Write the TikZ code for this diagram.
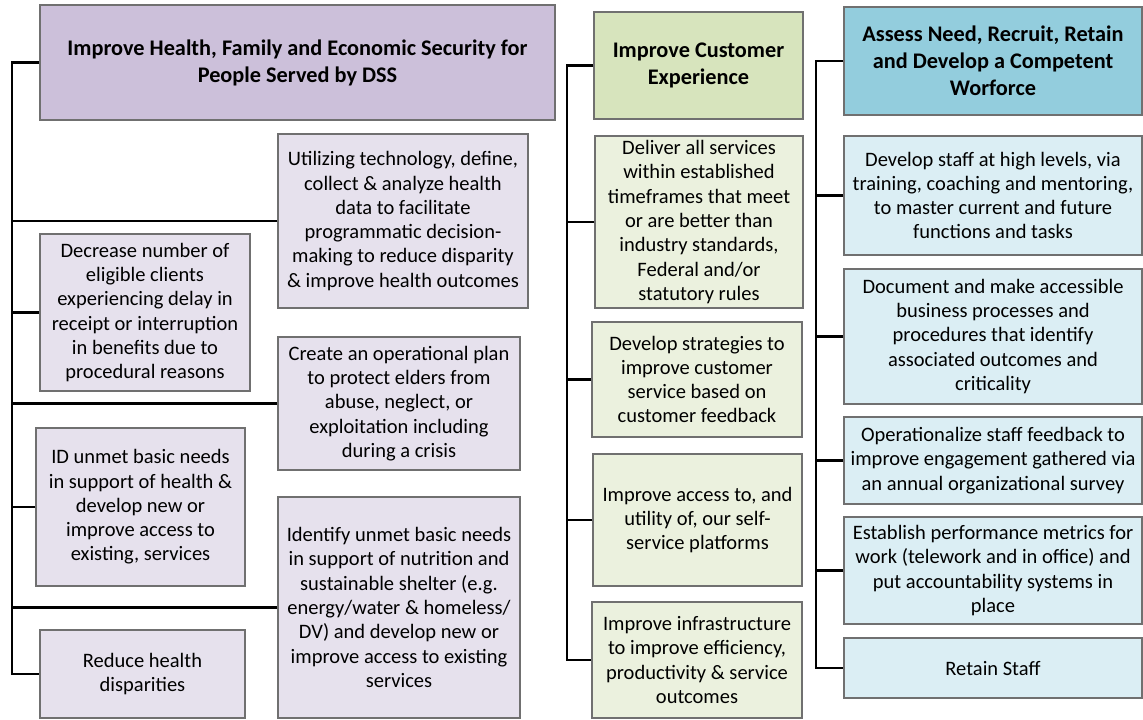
\documentclass[tikz,border=0pt]{standalone}
\usepackage{fontspec}
\setmainfont{Carlito}
\definecolor{purpleH}{RGB}{204,192,218}
\definecolor{purpleL}{RGB}{230,225,237}
\definecolor{greenH}{RGB}{215,228,189}
\definecolor{greenL}{RGB}{235,241,222}
\definecolor{blueH}{RGB}{147,205,221}
\definecolor{blueL}{RGB}{219,238,244}
\definecolor{edge}{RGB}{112,112,112}
\tikzset{
  box/.style={draw=edge, line width=1.3pt, inner sep=0pt, align=center,
    font=\fontsize{20.5}{24.3}\selectfont},
  headbox/.style={box, font=\bfseries\fontsize{22.3}{27}\selectfont},
  conn/.style={draw=black, line width=2.2pt},
  trunk/.style={draw=black, line width=2.7pt},
}
% box placed by its centre (x,y) and size (w,h), in pixel units
\newcommand\placebox[6]{%
  \node[#1, minimum width=#4, minimum height=#5] (#2) at #3 {#6};}
\begin{document}
\begin{tikzpicture}[x=1pt, y=-1pt]
\useasboundingbox (0,0) rectangle (1143,720);

% ---- Column 1: health, family and economic security
\placebox{headbox, fill=purpleH}{H1}{(297.5,62.5)}{515pt}{115pt}
  {Improve Health, Family and Economic Security for\\People Served by DSS}
\placebox{box, fill=purpleL}{A}{(403,221)}{250pt}{174pt}
  {Utilizing technology, define,\\collect \& analyze health\\data to facilitate\\programmatic decision-\\making to reduce disparity\\\& improve health outcomes}
\placebox{box, fill=purpleL}{B}{(145,312.5)}{210pt}{157pt}
  {Decrease number of\\eligible clients\\experiencing delay in\\receipt or interruption\\in benefits due to\\procedural reasons}
\placebox{box, fill=purpleL}{C}{(399,403.5)}{242pt}{133pt}
  {Create an operational plan\\to protect elders from\\abuse, neglect, or\\exploitation including\\during a crisis}
\placebox{box, fill=purpleL}{D}{(140.5,507)}{209pt}{158pt}
  {ID unmet basic needs\\in support of health \&\\develop new or\\improve access to\\existing, services}
\placebox{box, fill=purpleL}{F}{(399,607.5)}{242pt}{221pt}
  {Identify unmet basic needs\\in support of nutrition and\\sustainable shelter (e.g.\\energy/water \& homeless/\\DV) and develop new or\\improve access to existing\\services}
\placebox{box, fill=purpleL}{E}{(142.5,674)}{205pt}{88pt}
  {Reduce health\\disparities}

\coordinate (k1) at (12,0);
\draw[trunk] (H1.west) -- (H1.west -| k1) -- (E.west -| k1) -- (E.west);
\foreach \n in {A,B,C,D,F}
  \draw[conn] (\n.west) -- (\n.west -| k1);

% ---- Column 2: customer experience
\placebox{headbox, fill=greenH}{H2}{(698.5,65.5)}{209pt}{107pt}
  {Improve Customer\\Experience}
\placebox{box, fill=greenL}{G1}{(699,222)}{208pt}{172pt}
  {Deliver all services\\within established\\timeframes that meet\\or are better than\\industry standards,\\Federal and/or\\statutory rules}
\placebox{box, fill=greenL}{G2}{(697,379.5)}{210pt}{115pt}
  {Develop strategies to\\improve customer\\service based on\\customer feedback}
\placebox{box, fill=greenL}{G3}{(697.5,520)}{209pt}{132pt}
  {Improve access to, and\\utility of, our self-\\service platforms}
\placebox{box, fill=greenL}{G4}{(697,660)}{210pt}{116pt}
  {Improve infrastructure\\to improve efficiency,\\productivity \& service\\outcomes}

\coordinate (k2) at (567,0);
\draw[trunk] (H2.west) -- (H2.west -| k2) -- (G4.west -| k2) -- (G4.west);
\foreach \n in {G1,G2,G3}
  \draw[conn] (\n.west) -- (\n.west -| k2);

% ---- Column 3: workforce
\placebox{headbox, fill=blueH}{H3}{(993,61)}{298pt}{108pt}
  {Assess Need, Recruit, Retain\\and Develop a Competent\\Worforce}
\placebox{box, fill=blueL}{R1}{(993,195.5)}{298pt}{119pt}
  {Develop staff at high levels, via\\training, coaching and mentoring,\\to master current and future\\functions and tasks}
\placebox{box, fill=blueL}{R2}{(993,336.5)}{298pt}{135pt}
  {Document and make accessible\\business processes and\\procedures that identify\\associated outcomes and\\criticality}
\placebox{box, fill=blueL}{R3}{(993,460.5)}{298pt}{87pt}
  {Operationalize staff feedback to\\improve engagement gathered via\\an annual organizational survey}
\placebox{box, fill=blueL}{R4}{(993,570.5)}{298pt}{107pt}
  {Establish performance metrics for\\work (telework and in office) and\\put accountability systems in\\place}
\placebox{box, fill=blueL}{R5}{(993,668)}{298pt}{60pt}
  {Retain Staff}

\coordinate (k3) at (816,0);
\draw[trunk] (H3.west) -- (H3.west -| k3) -- (R5.west -| k3) -- (R5.west);
\foreach \n in {R1,R2,R3,R4}
  \draw[conn] (\n.west) -- (\n.west -| k3);
\end{tikzpicture}
\end{document}
